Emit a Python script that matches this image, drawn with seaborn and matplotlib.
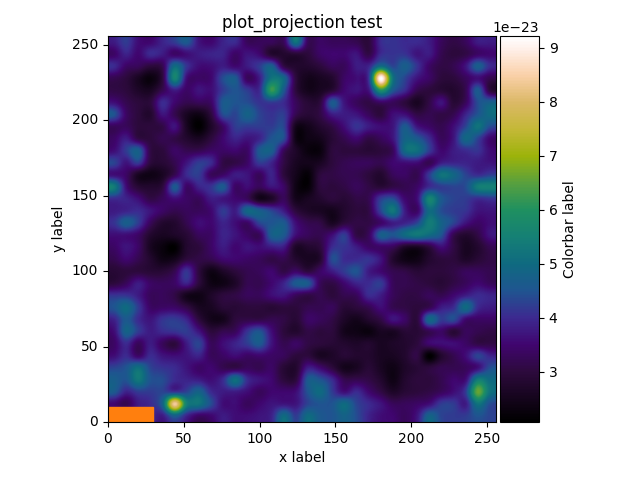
import numpy as np
import matplotlib
matplotlib.use('Agg')
import matplotlib.pyplot as plt
import seaborn as sns
from matplotlib.colors import LinearSegmentedColormap
from matplotlib.patches import Rectangle

# values, in units of 1e-23, one row per 8 pixels of y, top row first
row_31 = [3.8,4.2,3.6,3.5,3.9,4.2,4.6,3.7,3.5,3.9,4.0,3.3,3.3,3.3,3.3,5.2,3.3,3.4,3.3,3.3,3.2,3.0,4.0,4.1,4.0,4.0,3.8,3.3,3.1,3.3,3.8,3.8]
row_30 = [3.4,3.9,3.5,4.0,3.8,3.4,3.6,3.8,3.9,3.9,3.4,3.7,3.5,2.8,2.8,2.9,3.0,3.4,3.5,3.5,3.7,3.1,4.0,4.1,4.1,3.7,3.8,3.2,3.0,3.1,3.4,3.5]
row_29 = [4.0,3.4,3.3,3.0,3.2,5.0,4.1,3.6,3.6,3.8,3.5,3.8,4.2,4.7,3.1,2.8,2.8,3.0,3.3,3.3,3.8,3.9,5.0,4.3,4.7,4.1,3.4,3.1,3.2,3.7,4.7,4.0]
row_28 = [3.2,3.0,2.6,2.3,3.0,5.6,3.6,3.4,3.5,4.4,4.6,3.3,3.8,5.2,4.9,3.0,2.5,2.6,2.8,3.4,3.6,4.1,9.2,5.2,4.3,3.7,3.4,3.0,3.0,3.3,3.6,3.2]
row_27 = [3.1,3.0,2.7,2.6,3.2,3.8,3.4,3.7,3.6,4.2,4.5,4.2,4.0,6.2,4.6,3.0,2.5,2.6,2.9,3.5,3.7,3.7,6.0,4.6,4.0,3.2,3.0,2.9,2.8,3.2,4.6,3.0]
row_26 = [3.6,3.2,3.0,3.0,4.0,3.5,3.2,3.3,3.4,4.6,4.5,4.4,4.1,4.2,4.0,3.3,2.9,3.0,4.6,3.7,3.3,3.1,3.4,3.3,3.0,2.6,3.1,3.7,2.9,3.3,4.4,4.7]
row_25 = [4.5,3.4,3.0,2.8,3.7,3.2,2.6,2.4,3.0,4.4,4.3,4.8,4.3,4.1,4.2,3.2,2.9,3.1,3.8,3.8,3.7,3.3,3.0,3.6,3.6,3.1,3.2,3.1,3.2,3.9,4.5,5.0]
row_24 = [3.3,3.3,3.0,3.0,3.1,3.7,2.6,2.1,2.7,3.4,4.2,4.2,4.2,4.2,4.3,2.5,2.5,2.8,3.1,3.6,4.1,3.8,3.6,3.7,4.6,3.7,3.4,3.2,3.6,4.3,5.2,4.4]
row_23 = [3.4,3.8,3.1,3.0,3.2,3.1,2.8,2.6,3.0,3.5,3.9,3.7,3.9,4.5,4.4,2.4,2.4,2.5,2.9,3.2,3.5,3.1,3.3,3.7,4.8,4.6,4.0,3.3,3.7,4.9,4.3,3.5]
row_22 = [3.6,4.2,4.7,3.1,3.0,3.4,3.2,3.2,3.4,3.4,3.5,3.4,4.6,4.7,3.3,2.7,2.3,2.3,3.0,3.0,3.0,2.9,3.0,3.3,5.0,5.1,4.2,3.5,3.8,4.0,4.1,3.6]
row_21 = [4.3,3.7,4.2,3.0,2.9,3.2,3.7,4.2,4.0,3.1,3.1,3.4,4.2,3.9,3.1,2.6,2.5,2.6,3.0,3.2,3.3,3.3,3.2,3.5,3.6,3.6,3.2,3.8,3.9,3.9,3.8,3.7]
row_20 = [3.6,3.4,2.6,2.4,2.6,3.2,4.0,4.2,3.3,3.4,3.8,3.7,3.3,3.9,3.0,2.5,2.2,3.0,3.1,3.2,3.2,3.0,2.8,3.3,3.4,3.2,4.2,5.2,4.9,4.3,4.0,4.2]
row_19 = [5.4,3.6,2.9,2.8,3.0,4.6,3.4,3.9,4.1,4.6,3.4,3.6,3.3,3.7,3.4,2.4,2.2,3.0,3.0,3.1,3.3,3.1,2.9,3.1,3.2,3.4,4.0,4.2,4.3,4.4,5.4,5.5]
row_18 = [4.0,3.9,3.6,3.1,3.3,3.6,3.4,3.3,3.8,3.7,3.5,3.3,2.5,2.7,3.3,2.5,2.6,2.8,3.0,2.9,3.1,3.2,4.2,4.4,3.5,3.6,5.6,4.6,4.3,4.2,4.0,4.1]
row_17 = [3.8,3.9,4.0,3.7,3.4,3.2,3.3,3.3,3.5,4.2,3.8,4.9,4.7,4.3,3.8,3.0,2.7,2.6,2.5,2.8,3.0,3.1,4.3,5.3,3.8,3.4,5.0,4.4,4.2,4.1,3.7,3.7]
row_16 = [4.1,4.7,4.2,3.3,2.8,2.8,3.2,3.6,3.5,3.9,3.6,3.4,4.3,4.5,4.6,3.6,3.2,3.1,2.6,3.0,3.1,3.1,3.4,3.8,3.9,4.3,5.4,4.8,4.3,3.7,3.4,3.6]
row_15 = [3.6,3.6,3.4,2.8,2.6,2.7,2.9,3.3,3.4,3.9,3.7,3.4,3.3,4.7,4.6,3.6,3.3,3.2,3.6,4.2,3.1,3.3,4.7,4.5,5.0,5.3,5.0,4.5,3.2,2.8,3.1,3.7]
row_14 = [3.4,3.7,3.4,2.6,2.3,2.1,2.8,3.0,3.4,3.8,3.5,3.7,3.6,3.8,3.8,2.7,2.8,3.0,4.0,4.1,3.8,3.4,3.4,3.3,2.7,2.6,3.0,3.6,3.1,2.6,2.8,3.2]
row_13 = [3.2,3.5,3.2,2.8,2.4,2.5,3.0,3.1,3.2,3.5,3.5,3.4,3.3,3.1,3.2,2.8,2.6,2.8,4.4,4.0,4.0,4.1,3.7,2.8,2.4,2.4,2.8,3.0,3.0,2.7,2.9,3.1]
row_12 = [2.9,3.0,3.0,2.9,2.9,3.2,4.1,3.0,2.4,2.7,3.0,3.2,3.3,3.5,3.1,3.4,3.0,3.4,3.8,4.2,4.5,3.8,3.5,3.2,3.1,2.9,3.0,3.0,3.1,3.3,3.3,3.2]
row_11 = [3.0,3.3,3.8,3.4,3.3,3.4,3.9,3.0,2.4,2.4,2.7,3.2,3.2,3.5,3.9,4.6,4.6,3.3,3.1,3.5,3.9,4.0,4.2,3.3,3.2,3.1,3.0,2.9,3.1,3.3,3.5,3.3]
row_10 = [4.1,4.1,3.8,3.3,3.3,3.1,2.5,2.4,2.7,3.0,3.1,3.3,3.3,3.6,3.7,3.3,3.1,3.2,3.0,3.2,3.3,4.0,3.8,3.3,3.1,3.1,3.3,3.2,3.5,3.8,4.0,3.9]
row_09 = [4.5,5.0,4.2,3.4,3.4,3.4,3.1,2.6,2.6,2.9,2.9,3.0,3.0,2.9,3.0,3.0,3.2,3.2,3.3,2.9,3.0,3.2,3.6,3.2,3.1,3.0,3.2,3.8,4.0,5.0,4.0,3.8]
row_08 = [3.9,4.6,4.0,3.7,4.1,4.2,3.9,3.0,2.5,2.5,3.0,3.1,3.1,3.2,3.1,2.9,3.4,3.3,3.1,2.7,2.5,2.8,3.1,3.7,3.4,3.0,4.9,4.2,4.4,3.5,3.4,3.4]
row_07 = [3.6,4.8,4.2,3.8,4.0,4.1,4.2,3.7,3.0,3.2,3.3,4.1,4.5,3.6,3.0,2.8,3.1,3.0,3.0,2.5,2.4,2.3,2.6,2.6,2.9,2.9,3.2,3.4,2.9,3.3,3.2,3.1]
row_06 = [3.4,4.0,3.3,3.8,3.3,3.0,3.8,4.3,3.3,3.6,3.9,4.2,4.6,3.7,3.2,3.4,3.1,3.0,2.9,2.8,2.7,2.8,2.6,2.7,2.8,3.0,3.5,3.6,3.6,3.4,3.1,3.1]
row_05 = [3.6,4.0,3.4,4.0,3.7,3.6,3.7,3.9,3.3,3.4,3.6,3.4,3.5,3.4,3.3,3.0,3.0,2.6,2.7,2.9,2.8,2.8,2.6,2.6,2.8,3.1,2.1,2.8,3.2,3.6,4.3,3.9]
row_04 = [4.3,4.5,5.1,4.3,4.1,4.0,3.7,3.4,3.5,3.2,3.1,3.3,3.2,3.4,2.9,2.8,3.8,3.5,3.0,2.5,2.6,2.9,2.6,2.4,2.7,2.9,3.0,3.2,3.2,3.3,3.6,4.4]
row_03 = [4.7,4.5,5.3,4.5,4.4,4.0,3.9,3.8,3.6,4.0,5.1,4.0,3.7,3.5,3.0,3.0,4.6,4.5,4.0,3.2,3.2,3.1,2.8,2.4,2.8,3.0,3.0,3.2,3.5,3.6,5.4,5.0]
row_02 = [4.6,3.9,4.2,4.2,4.3,4.1,4.3,4.8,4.0,3.8,3.8,3.6,3.3,3.5,3.5,3.6,4.5,5.0,4.2,3.6,4.0,3.5,3.1,2.7,2.9,3.0,3.1,3.3,3.6,4.2,6.6,5.2]
row_01 = [3.5,3.2,3.8,4.0,4.8,8.4,5.5,5.2,4.4,3.6,3.6,3.3,3.5,3.7,3.7,3.7,4.3,4.5,4.5,5.0,4.3,4.0,3.7,3.3,3.3,3.4,3.6,4.2,4.2,3.8,5.2,4.4]
row_00 = [4.0,4.0,4.0,4.0,3.8,4.7,3.9,3.4,3.5,3.8,3.6,3.6,3.7,3.9,5.0,4.2,5.0,4.6,4.5,4.8,4.4,3.9,3.6,3.5,3.3,3.7,4.8,4.3,4.2,4.2,4.5,4.3]

tick_values = [0, 50, 100, 150, 200, 250]
color_min = 2.07
color_max = 9.22
cell_size = 8
orange_box = (30, 10)

# colours at these values
stop_values = [2.07, 3.0, 3.5, 4.0, 4.5, 5.0, 5.5, 6.0, 6.5, 7.0, 7.5, 8.0, 8.5, 9.0, 9.22]
stop_colors = ['#000000', '#2d0a3d', '#40056f', '#3c2a90', '#1f5590', '#0f6a80', '#158075',
               '#1f9060', '#58a03e', '#9cb30a', '#c4b837', '#dbb866', '#fad0a8', '#fff0ea', '#ffffff']

rows = [row_31, row_30, row_29, row_28, row_27, row_26, row_25, row_24,
        row_23, row_22, row_21, row_20, row_19, row_18, row_17, row_16,
        row_15, row_14, row_13, row_12, row_11, row_10, row_09, row_08,
        row_07, row_06, row_05, row_04, row_03, row_02, row_01, row_00]
image = np.array(rows) * 1e-23
n_cells = image.shape[0]

stops = [(v - color_min) / (color_max - color_min) for v in stop_values]
projection_cmap = LinearSegmentedColormap.from_list('projection', list(zip(stops, stop_colors)))

fig = plt.figure(figsize=(6.4, 4.8), dpi=100)
ax = fig.add_axes([108/640, 58/480, 388/640, 386/480])
cax = fig.add_axes([500/640, 58/480, 39/640, 386/480])

sns.heatmap(image, ax=ax, cbar_ax=cax, cmap=projection_cmap, vmin=color_min * 1e-23, vmax=color_max * 1e-23,
            cbar_kws={'label': 'Colorbar label'})

# smooth the coarse cells the way the original looks
ax.imshow(image, cmap=projection_cmap, vmin=color_min * 1e-23, vmax=color_max * 1e-23, interpolation='catrom',
          extent=[0, n_cells, n_cells, 0], aspect='auto', zorder=2)
ax.set_xlim(0, n_cells)
ax.set_ylim(n_cells, 0)

for spine in ax.spines.values():
    spine.set_visible(True)
    spine.set_linewidth(0.8)
    spine.set_zorder(4)

cbar = ax.collections[0].colorbar
cbar.outline.set_visible(True)
cbar.outline.set_linewidth(0.8)
cbar.outline.set_edgecolor('black')

ax.set_xticks([v / cell_size for v in tick_values])
ax.set_xticklabels(tick_values, rotation=0)
ax.set_yticks([n_cells - v / cell_size for v in tick_values])
ax.set_yticklabels(tick_values, rotation=0)
ax.set_xlabel('x label')
ax.set_ylabel('y label')
ax.set_title('plot_projection test')

ax.add_patch(Rectangle((0, n_cells), orange_box[0] / cell_size, -orange_box[1] / cell_size,
                       color='tab:orange', zorder=3))

plt.savefig('out.png', dpi=100)
